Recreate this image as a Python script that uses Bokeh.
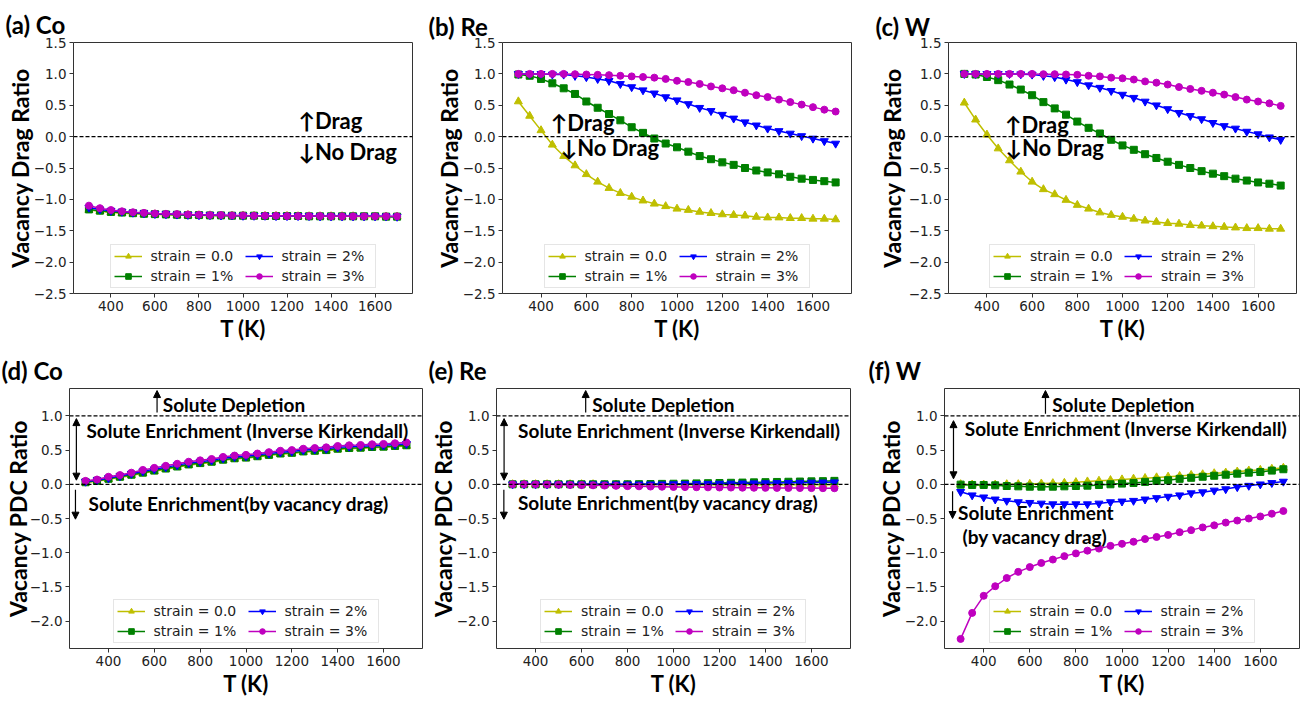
from bokeh.plotting import figure
from bokeh.layouts import row, column
from bokeh.models import (Span, Label, Arrow, NormalHead, Legend, LegendItem,
                          FixedTicker, CustomJSTickFormatter, Range1d, Title)
from bokeh.embed import file_html
from bokeh.resources import INLINE

# ---------------- data ----------------
T = [300, 350, 400, 450, 500, 550, 600, 650, 700, 750, 800, 850, 900, 950, 1000,
     1050, 1100, 1150, 1200, 1250, 1300, 1350, 1400, 1450, 1500, 1550, 1600, 1650, 1700]

labels = ["strain = 0.0", "strain = 1%", "strain = 2%", "strain = 3%"]
colors = ["#bfbf00", "#008000", "#0000ff", "#bf00bf"]
markers = ["triangle", "square", "inverted_triangle", "circle"]

a_s0 = [-1.17, -1.19, -1.21, -1.22, -1.23, -1.235, -1.24, -1.245, -1.25, -1.25, -1.255, -1.255, -1.26, -1.26, -1.26,
        -1.265, -1.265, -1.265, -1.265, -1.27, -1.27, -1.27, -1.27, -1.27, -1.27, -1.275, -1.275, -1.275, -1.275]
a_s1 = [-1.16, -1.18, -1.20, -1.21, -1.22, -1.23, -1.235, -1.24, -1.245, -1.25, -1.25, -1.255, -1.255, -1.26, -1.26,
        -1.26, -1.265, -1.265, -1.265, -1.265, -1.27, -1.27, -1.27, -1.27, -1.27, -1.27, -1.27, -1.275, -1.275]
a_s2 = [-1.13, -1.16, -1.18, -1.195, -1.21, -1.22, -1.23, -1.235, -1.24, -1.245, -1.25, -1.25, -1.255, -1.255, -1.26,
        -1.26, -1.26, -1.265, -1.265, -1.265, -1.265, -1.27, -1.27, -1.27, -1.27, -1.27, -1.27, -1.27, -1.275]
a_s3 = [-1.10, -1.14, -1.17, -1.19, -1.205, -1.215, -1.225, -1.23, -1.235, -1.24, -1.245, -1.25, -1.25, -1.255, -1.255,
        -1.26, -1.26, -1.26, -1.265, -1.265, -1.265, -1.265, -1.27, -1.27, -1.27, -1.27, -1.27, -1.27, -1.27]

b_s0 = [0.56, 0.33, 0.10, -0.13, -0.31, -0.46, -0.60, -0.72, -0.82, -0.90, -0.96, -1.02, -1.07, -1.11, -1.15,
        -1.17, -1.20, -1.22, -1.24, -1.25, -1.26, -1.28, -1.29, -1.29, -1.30, -1.30, -1.31, -1.31, -1.32]
b_s1 = [0.99, 0.97, 0.92, 0.85, 0.77, 0.68, 0.56, 0.46, 0.36, 0.26, 0.15, 0.06, -0.03, -0.11, -0.17,
        -0.24, -0.31, -0.36, -0.41, -0.45, -0.50, -0.54, -0.57, -0.60, -0.64, -0.67, -0.69, -0.71, -0.73]
b_s2 = [1.00, 1.00, 1.00, 0.99, 0.99, 0.97, 0.95, 0.92, 0.89, 0.84, 0.79, 0.74, 0.69, 0.63, 0.58,
        0.52, 0.46, 0.41, 0.35, 0.29, 0.23, 0.18, 0.13, 0.09, 0.05, 0.01, -0.03, -0.07, -0.11]
b_s3 = [1.00, 1.00, 1.00, 1.00, 1.00, 0.995, 0.99, 0.985, 0.98, 0.97, 0.96, 0.95, 0.94, 0.92, 0.89,
        0.87, 0.84, 0.80, 0.77, 0.74, 0.70, 0.66, 0.63, 0.59, 0.55, 0.51, 0.47, 0.43, 0.40]

c_s0 = [0.54, 0.27, 0.03, -0.19, -0.38, -0.56, -0.72, -0.84, -0.92, -1.01, -1.09, -1.15, -1.21, -1.25, -1.28,
        -1.31, -1.34, -1.36, -1.38, -1.39, -1.41, -1.42, -1.43, -1.44, -1.45, -1.46, -1.46, -1.47, -1.47]
c_s1 = [1.00, 0.99, 0.95, 0.90, 0.83, 0.75, 0.66, 0.55, 0.45, 0.35, 0.24, 0.14, 0.05, -0.05, -0.14,
        -0.21, -0.28, -0.34, -0.40, -0.45, -0.50, -0.55, -0.59, -0.63, -0.67, -0.70, -0.73, -0.75, -0.78]
c_s2 = [1.00, 1.00, 1.00, 1.00, 1.00, 0.995, 0.99, 0.97, 0.95, 0.91, 0.87, 0.82, 0.78, 0.73, 0.67,
        0.62, 0.56, 0.50, 0.44, 0.38, 0.33, 0.28, 0.22, 0.17, 0.13, 0.08, 0.04, -0.01, -0.05]
c_s3 = [1.00, 1.00, 1.00, 1.00, 1.00, 1.00, 1.00, 0.995, 0.995, 0.99, 0.985, 0.97, 0.96, 0.94, 0.93,
        0.91, 0.88, 0.86, 0.83, 0.79, 0.76, 0.73, 0.70, 0.67, 0.63, 0.59, 0.56, 0.53, 0.49]

d_s0 = [0.025, 0.045, 0.075, 0.10, 0.13, 0.16, 0.19, 0.22, 0.25, 0.28, 0.30, 0.32, 0.35, 0.37, 0.38,
        0.40, 0.42, 0.44, 0.45, 0.47, 0.48, 0.49, 0.51, 0.52, 0.525, 0.535, 0.54, 0.55, 0.56]
d_s1 = [0.03, 0.05, 0.08, 0.11, 0.14, 0.17, 0.20, 0.23, 0.26, 0.29, 0.31, 0.33, 0.36, 0.38, 0.39,
        0.41, 0.43, 0.45, 0.46, 0.48, 0.49, 0.50, 0.52, 0.53, 0.535, 0.545, 0.55, 0.56, 0.57]
d_s2 = [0.04, 0.06, 0.09, 0.12, 0.155, 0.19, 0.22, 0.25, 0.28, 0.31, 0.33, 0.35, 0.38, 0.40, 0.41,
        0.43, 0.45, 0.47, 0.48, 0.50, 0.51, 0.52, 0.54, 0.55, 0.555, 0.565, 0.57, 0.58, 0.59]
d_s3 = [0.05, 0.07, 0.11, 0.135, 0.17, 0.21, 0.24, 0.27, 0.30, 0.33, 0.35, 0.37, 0.40, 0.42, 0.43,
        0.45, 0.47, 0.49, 0.50, 0.52, 0.53, 0.54, 0.56, 0.57, 0.575, 0.585, 0.59, 0.60, 0.61]

e_s0 = [0.0, 0.0, 0.0, 0.0, 0.0, 0.0, 0.0, 0.0, -0.005, -0.005, -0.005, -0.005, -0.005, -0.005, -0.005,
        -0.005, -0.005, -0.005, -0.005, -0.005, -0.005, -0.005, -0.005, -0.005, -0.005, -0.005, -0.005, -0.005, -0.005]
e_s1 = [0.0, 0.0, 0.0, 0.0, 0.0, 0.0, 0.0, 0.0, 0.0, 0.0, 0.0, 0.002, 0.004, 0.006, 0.008,
        0.01, 0.013, 0.016, 0.019, 0.022, 0.025, 0.028, 0.031, 0.034, 0.037, 0.04, 0.043, 0.046, 0.05]
e_s2 = [0.0, 0.0, 0.0, 0.0, 0.0, 0.0, 0.0, 0.0, 0.0, 0.0, 0.0, 0.0, 0.0, 0.0, 0.002,
        0.004, 0.006, 0.008, 0.01, 0.012, 0.014, 0.016, 0.018, 0.02, 0.022, 0.024, 0.026, 0.028, 0.03]
e_s3 = [0.0, 0.0, 0.0, -0.003, -0.006, -0.009, -0.012, -0.015, -0.019, -0.023, -0.027, -0.03, -0.033, -0.036, -0.039,
        -0.041, -0.043, -0.045, -0.047, -0.048, -0.05, -0.051, -0.052, -0.053, -0.054, -0.055, -0.056, -0.057, -0.058]

f_s0 = [0.0, -0.005, -0.005, -0.005, 0.0, 0.0, 0.005, 0.01, 0.015, 0.02, 0.03, 0.04, 0.05, 0.06, 0.07,
        0.08, 0.09, 0.10, 0.11, 0.12, 0.135, 0.145, 0.16, 0.17, 0.185, 0.20, 0.21, 0.225, 0.24]
f_s1 = [-0.005, -0.01, -0.01, -0.015, -0.025, -0.03, -0.035, -0.035, -0.035, -0.03, -0.025, -0.02, -0.01, 0.0, 0.01,
        0.02, 0.035, 0.05, 0.06, 0.08, 0.095, 0.11, 0.125, 0.14, 0.155, 0.17, 0.18, 0.20, 0.22]
f_s2 = [-0.11, -0.16, -0.19, -0.22, -0.24, -0.26, -0.27, -0.28, -0.29, -0.29, -0.29, -0.29, -0.28, -0.26, -0.25,
        -0.24, -0.22, -0.20, -0.18, -0.16, -0.13, -0.115, -0.09, -0.07, -0.04, -0.02, 0.0, 0.02, 0.04]
f_s3 = [-2.26, -1.88, -1.63, -1.49, -1.37, -1.28, -1.21, -1.15, -1.10, -1.05, -1.01, -0.97, -0.94, -0.90, -0.87,
        -0.84, -0.80, -0.77, -0.74, -0.70, -0.67, -0.63, -0.60, -0.56, -0.53, -0.50, -0.47, -0.43, -0.39]

x_ticks = [400, 600, 800, 1000, 1200, 1400, 1600]
y_ticks_top = [-2.5, -2.0, -1.5, -1.0, -0.5, 0.0, 0.5, 1.0, 1.5]
y_ticks_bot = [-2.0, -1.5, -1.0, -0.5, 0.0, 0.5, 1.0]

XMIN, XMAX = 230, 1770
BOLD = "Lato, DejaVu Sans"
TICKFONT = "DejaVu Sans"

fmt = CustomJSTickFormatter(code="""
    if (Math.abs(tick) < 1e-9) { return "0.0"; }
    return (tick < 0 ? "\\u2212" : "") + Math.abs(tick).toFixed(1);
""")


def make_panel(title, title_offset, ylabel, ylab_standoff, yrange, yticks, series,
               width, height, left, right, top, bottom):
    p = figure(width=width, height=height, output_backend="svg", toolbar_location=None,
               x_range=Range1d(XMIN, XMAX), y_range=Range1d(*yrange),
               min_border_left=left, min_border_right=right,
               min_border_top=top, min_border_bottom=bottom)
    p.title = Title(text=title, align="left", vertical_align="top", offset=title_offset,
                    text_font=BOLD, text_font_style="bold", text_font_size="24px",
                    text_color="black", standoff=max(top - 38, 0))
    p.xgrid.visible = False
    p.ygrid.visible = False
    p.outline_line_color = "#333333"
    p.outline_line_width = 1
    p.background_fill_color = "white"
    p.border_fill_color = "white"
    p.xaxis.axis_label = "T (K)"
    p.yaxis.axis_label = ylabel
    p.xaxis.ticker = FixedTicker(ticks=x_ticks)
    p.yaxis.ticker = FixedTicker(ticks=yticks)
    p.yaxis.formatter = fmt
    for ax in (p.xaxis[0], p.yaxis[0]):
        ax.axis_line_color = None
        ax.major_tick_line_color = "#333333"
        ax.major_tick_in = 0
        ax.major_tick_out = 4
        ax.minor_tick_line_color = None
        ax.major_label_text_font = TICKFONT
        ax.major_label_text_font_size = "13.5px"
        ax.major_label_text_color = "#222222"
        ax.axis_label_text_font = BOLD
        ax.axis_label_text_font_style = "bold"
        ax.axis_label_text_color = "black"
    p.xaxis[0].major_label_standoff = 3
    p.xaxis[0].axis_label_standoff = 1
    p.xaxis[0].axis_label_text_font_size = "22px"
    p.yaxis[0].major_label_standoff = 3
    p.yaxis[0].axis_label_standoff = ylab_standoff
    p.yaxis[0].axis_label_text_font_size = "23px"
    items = []
    for vals, lab, col, mk in zip(series, labels, colors, markers):
        l = p.line(T, vals, line_color=col, line_width=1.5)
        sz = 8 if "triangle" in mk else 7
        s = p.scatter(T, vals, marker=mk, size=sz, fill_color=col, line_color=col)
        items.append(LegendItem(label=lab, renderers=[l, s]))
    leg = Legend(items=items, location="bottom_center", orientation="vertical", nrows=2,
                 label_text_font=TICKFONT, label_text_font_size="14px", label_text_color="#222222",
                 glyph_width=28, glyph_height=14, label_standoff=9, label_width=90,
                 spacing=4, padding=3, margin=5,
                 border_line_color="#cccccc", border_line_width=1,
                 background_fill_color="white", background_fill_alpha=0.85)
    p.add_layout(leg, "center")
    return p


def text(p, x, y, s, size):
    p.add_layout(Label(x=x, y=y, text=s, text_font=BOLD, text_font_style="bold",
                       text_font_size=size, text_color="black", text_baseline="middle",
                       text_align="left"))


def arrow(p, x, y0, y1, both=False):
    head = dict(size=7, fill_color="black", line_color="black", line_width=1)
    kw = dict(end=NormalHead(**head), x_start=x, y_start=y0, x_end=x, y_end=y1,
              line_color="black", line_width=1.2)
    if both:
        kw["start"] = NormalHead(**head)
    p.add_layout(Arrow(**kw))


def hline(p, y):
    p.add_layout(Span(location=y, dimension="width", line_color="black",
                      line_width=1.2, line_dash="4 2"))


# ---------------- top row (height 346) ----------------
pa = make_panel("(a) Co", -68, "Vacancy Drag Ratio", -3, (-2.5, 1.5), y_ticks_top,
                [a_s0, a_s1, a_s2, a_s3], 427, 346, 73, 15, 42, 53)
pb = make_panel("(b) Re", -74, "Vacancy Drag Ratio", -3, (-2.5, 1.5), y_ticks_top,
                [b_s0, b_s1, b_s2, b_s3], 446, 346, 75, 22, 38, 49)
pc = make_panel("(c) W", -73, "Vacancy Drag Ratio", 0, (-2.5, 1.5), y_ticks_top,
                [c_s0, c_s1, c_s2, c_s3], 431, 346, 75, 8, 38, 49)
for p in (pa, pb, pc):
    hline(p, 0.0)
text(pa, 1252, 0.26, "\u2191Drag", "22px")
text(pa, 1252, -0.24, "\u2193No Drag", "22px")
text(pb, 443, 0.22, "\u2191Drag", "22px")
text(pb, 487, -0.18, "\u2193No Drag", "22px")
text(pc, 480, 0.19, "\u2191Drag", "22px")
text(pc, 482, -0.18, "\u2193No Drag", "22px")

# ---------------- bottom row (height 355) ----------------
pd = make_panel("(d) Co", -68, "Vacancy PDC Ratio", -5, (-2.4, 1.4), y_ticks_bot,
                [d_s0, d_s1, d_s2, d_s3], 424, 355, 68, 2, 41, 53)
pe = make_panel("(e) Re", -68, "Vacancy PDC Ratio", -3, (-2.4, 1.4), y_ticks_bot,
                [e_s0, e_s1, e_s2, e_s3], 445, 355, 72, 19, 41, 52)
pf = make_panel("(f) W", -76, "Vacancy PDC Ratio", -3, (-2.4, 1.4), y_ticks_bot,
                [f_s0, f_s1, f_s2, f_s3], 435, 355, 75, 5, 42, 49)
for p in (pd, pe, pf):
    hline(p, 0.0)
    hline(p, 1.0)

ANN = "19px"
# (d)
arrow(pd, 612, 1.05, 1.37)
text(pd, 637, 1.17, "Solute Depletion", ANN)
arrow(pd, 260, 0.96, 0.06, both=True)
text(pd, 304, 0.78, "Solute Enrichment (Inverse Kirkendall)", ANN)
arrow(pd, 256, -0.08, -0.51)
text(pd, 313, -0.28, "Solute Enrichment(by vacancy drag)", ANN)
# (e)
arrow(pe, 618, 1.05, 1.37)
text(pe, 646, 1.17, "Solute Depletion", ANN)
arrow(pe, 263, 0.96, 0.06, both=True)
text(pe, 324, 0.78, "Solute Enrichment (Inverse Kirkendall)", ANN)
arrow(pe, 262, -0.08, -0.51)
text(pe, 323, -0.27, "Solute Enrichment(by vacancy drag)", ANN)
# (f)
arrow(pf, 668, 1.03, 1.37)
text(pf, 697, 1.17, "Solute Depletion", ANN)
arrow(pf, 269, 0.93, 0.08, both=True)
text(pf, 318, 0.81, "Solute Enrichment (Inverse Kirkendall)", ANN)
arrow(pf, 265, -0.1, -0.5)
text(pf, 289, -0.41, "Solute Enrichment", ANN)
text(pf, 308, -0.77, "(by vacancy drag)", ANN)

layout = column(row(pa, pb, pc, spacing=0), row(pd, pe, pf, spacing=0), spacing=0)

open("out.html", "w").write(file_html(layout, INLINE))
